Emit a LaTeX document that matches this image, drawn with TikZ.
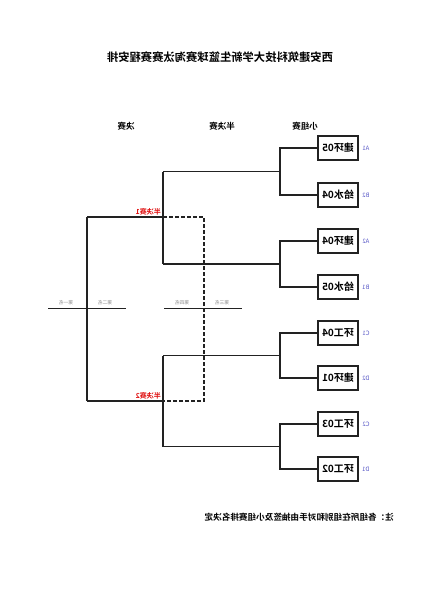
\documentclass[tikz,border=0pt]{standalone}
\usepackage{graphicx}
\usepackage{fontspec}
\setmainfont{Noto Sans CJK SC}
\newfontfamily\cjkb{Noto Sans CJK SC Bold}
\newcommand{\mirtxt}[1]{\reflectbox{#1}}
\definecolor{lineg}{HTML}{222222}
\definecolor{lblblue}{HTML}{5A5AC8}
\definecolor{semired}{HTML}{E01010}
\definecolor{smallg}{HTML}{8A8A8A}
\begin{document}
\begin{tikzpicture}[x=1pt,y=-1pt,
  team/.style={draw=lineg,line width=1.4pt,minimum width=40pt,minimum height=24pt,inner sep=0pt,font=\cjkb\fontsize{10}{10}\selectfont},
  seed/.style={text=lblblue,font=\fontsize{6}{6}\selectfont,inner sep=0pt},
  hdr/.style={font=\cjkb\fontsize{8.5}{8.5}\selectfont,inner sep=0pt},
  semil/.style={text=semired,font=\cjkb\fontsize{7}{7}\selectfont,inner sep=0pt,anchor=south east},
  place/.style={text=smallg,font=\fontsize{4.8}{4.8}\selectfont,inner sep=0pt},
  wire/.style={draw=lineg,line width=1.2pt},
  dwire/.style={draw=lineg,line width=1.2pt,dash pattern=on 4pt off 2pt}]
\useasboundingbox[fill=white] (0,0) rectangle (424,600);
% title
\node[font=\cjkb\fontsize{11.3}{11.3}\selectfont,inner sep=0pt] (title) at (220,57) {\mirtxt{西安建筑科技大学新生篮球赛淘汰赛赛程安排}};
% headers
\node[hdr] (h1) at (126,126) {\mirtxt{决赛}};
\node[hdr] (h2) at (222,126) {\mirtxt{半决赛}};
\node[hdr] (h3) at (305,126) {\mirtxt{小组赛}};
% teams
\node[team] (b1) at (338,148) {\mirtxt{建环05}};
\node[team] (b2) at (338,195) {\mirtxt{给水04}};
\node[team] (b3) at (338,241) {\mirtxt{建环04}};
\node[team] (b4) at (338,287) {\mirtxt{给水05}};
\node[team] (b5) at (338,333) {\mirtxt{环工04}};
\node[team] (b6) at (338,378) {\mirtxt{建环01}};
\node[team] (b7) at (338,424) {\mirtxt{环工03}};
\node[team] (b8) at (338,469) {\mirtxt{环工02}};
% seeds
\node[seed] (s1) at (366,148) {\mirtxt{A1}};
\node[seed] (s2) at (366,195) {\mirtxt{B2}};
\node[seed] (s3) at (366,241) {\mirtxt{A2}};
\node[seed] (s4) at (366,287) {\mirtxt{B1}};
\node[seed] (s5) at (366,333) {\mirtxt{C1}};
\node[seed] (s6) at (366,378) {\mirtxt{D2}};
\node[seed] (s7) at (366,424) {\mirtxt{C2}};
\node[seed] (s8) at (366,469) {\mirtxt{D1}};
% junction coordinates
\coordinate (j1) at (280,171.5);
\coordinate (j2) at (280,264);
\coordinate (j3) at (280,355.5);
\coordinate (j4) at (280,446.5);
\coordinate (k1) at (163,171.5);
\coordinate (k2) at (163,264);
\coordinate (k3) at (163,355.5);
\coordinate (k4) at (163,446.5);
\coordinate (f1) at (163,217);
\coordinate (f2) at (163,401);
\coordinate (g1) at (87,217);
\coordinate (g2) at (87,401);
\coordinate (d1) at (204,217);
\coordinate (d2) at (204,401);
\coordinate (l1) at (48,308);
\coordinate (l2) at (126,308);
\coordinate (l3) at (164,308);
\coordinate (l4) at (242,308);
% first round
\draw[wire] (b1.west) -| (j1) |- (b2.west);
\draw[wire] (b3.west) -| (j2) |- (b4.west);
\draw[wire] (b5.west) -| (j3) |- (b6.west);
\draw[wire] (b7.west) -| (j4) |- (b8.west);
\draw[wire] (j1) -- (k1);
\draw[wire] (j2) -- (k2);
\draw[wire] (j3) -- (k3);
\draw[wire] (j4) -- (k4);
% semi finals
\draw[wire] (k1) -- (k2);
\draw[wire] (k3) -- (k4);
\draw[wire] (f1) -- (g1);
\draw[wire] (f2) -- (g2);
\draw[wire] (g1) -- (g2);
\draw[dwire] (f1) -- (d1) -- (d2) -- (f2);
% placing lines
\draw[draw=lineg,line width=1pt] (l1) -- (l2);
\draw[draw=lineg,line width=1pt] (l3) -- (l4);
\node[place] (p1) at (66,303) {\mirtxt{第一名}};
\node[place] (p2) at (105,303) {\mirtxt{第二名}};
\node[place] (p3) at (182,303) {\mirtxt{第四名}};
\node[place] (p4) at (222,303) {\mirtxt{第三名}};
% semi labels
\node[semil] (r1) at (161,215) {\mirtxt{半决赛1}};
\node[semil] (r2) at (161,399) {\mirtxt{半决赛2}};
% footnote
\node[font=\cjkb\fontsize{8.6}{8.6}\selectfont,inner sep=0pt,anchor=east] (note) at (394,517) {\mirtxt{注：各组所在组别和对手由抽签及小组赛排名决定}};
\end{tikzpicture}
\end{document}
